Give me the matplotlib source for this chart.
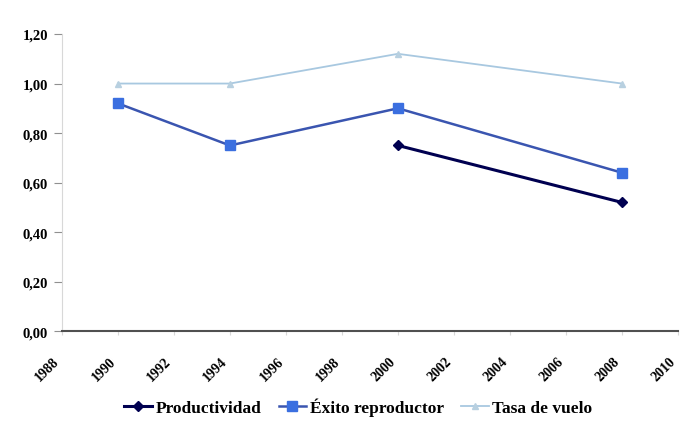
import matplotlib
matplotlib.use("Agg")
import matplotlib.pyplot as plt
from matplotlib.ticker import FuncFormatter
from matplotlib.transforms import ScaledTranslation

years = [1990, 1994, 2000, 2008]
productividad_years = [2000, 2008]
productividad = [0.75, 0.52]
exito = [0.92, 0.75, 0.90, 0.64]
tasa = [1.00, 1.00, 1.12, 1.00]
xticks = list(range(1988, 2011, 2))
yticks = [0.0, 0.2, 0.4, 0.6, 0.8, 1.0, 1.2]

plt.rcParams['font.family'] = ['Liberation Serif', 'DejaVu Serif']
plt.rcParams['font.weight'] = 'bold'

fig = plt.figure(figsize=(6.8, 4.27), dpi=100)
ax = fig.add_axes([0.091, 0.222, 0.906, 0.696])

ax.plot(productividad_years, productividad, color='#000050', lw=2.2, marker='D',
        ms=5, label='Productividad', zorder=4)
ax.plot(years, exito, color='#3a55b0', lw=1.8, marker='s', ms=6.5,
        mfc='#3b6fe0', mec='#3b6fe0', label='Éxito reproductor', zorder=3)
ax.plot(years, tasa, color='#a8c8e0', lw=1.3, marker='^', ms=5,
        mfc='#b8d0e0', mec='#b8d0e0', label='Tasa de vuelo', zorder=2)

ax.set_xlim(1988, 2010)
ax.set_ylim(0, 1.2)
ax.set_xticks(xticks)
ax.set_yticks(yticks)
ax.yaxis.set_major_formatter(FuncFormatter(lambda v, p: f"{v:.2f}".replace('.', ',')))
ax.set_xticklabels([])
off = ScaledTranslation(-9 / 100, -23 / 100, fig.dpi_scale_trans)
trans = ax.get_xaxis_transform() + off
for yr in xticks:
    ax.text(yr, 0, str(yr), transform=trans, rotation=45, ha='right', va='top',
            rotation_mode='anchor', fontsize=10, fontweight='bold', clip_on=False)
for lbl in ax.get_yticklabels():
    lbl.set_fontsize(10.5)
    lbl.set_fontweight('bold')

for s in ['top', 'right']:
    ax.spines[s].set_visible(False)
ax.spines['left'].set_color('#d8d8d8')
ax.spines['bottom'].set_color('#505050')
ax.spines['bottom'].set_linewidth(1.5)
ax.tick_params(axis='y', direction='out', length=6, color='#909090', pad=4)
ax.tick_params(axis='x', direction='out', length=3, color='#d8d8d8', pad=4)

leg = fig.legend(loc='center', bbox_to_anchor=(0.527, 0.045), ncol=3, frameon=False,
                 prop={'size': 12.5, 'weight': 'bold'}, handlelength=1.6,
                 columnspacing=1.0, handletextpad=0.2)

fig.savefig('out.png', dpi=100)
